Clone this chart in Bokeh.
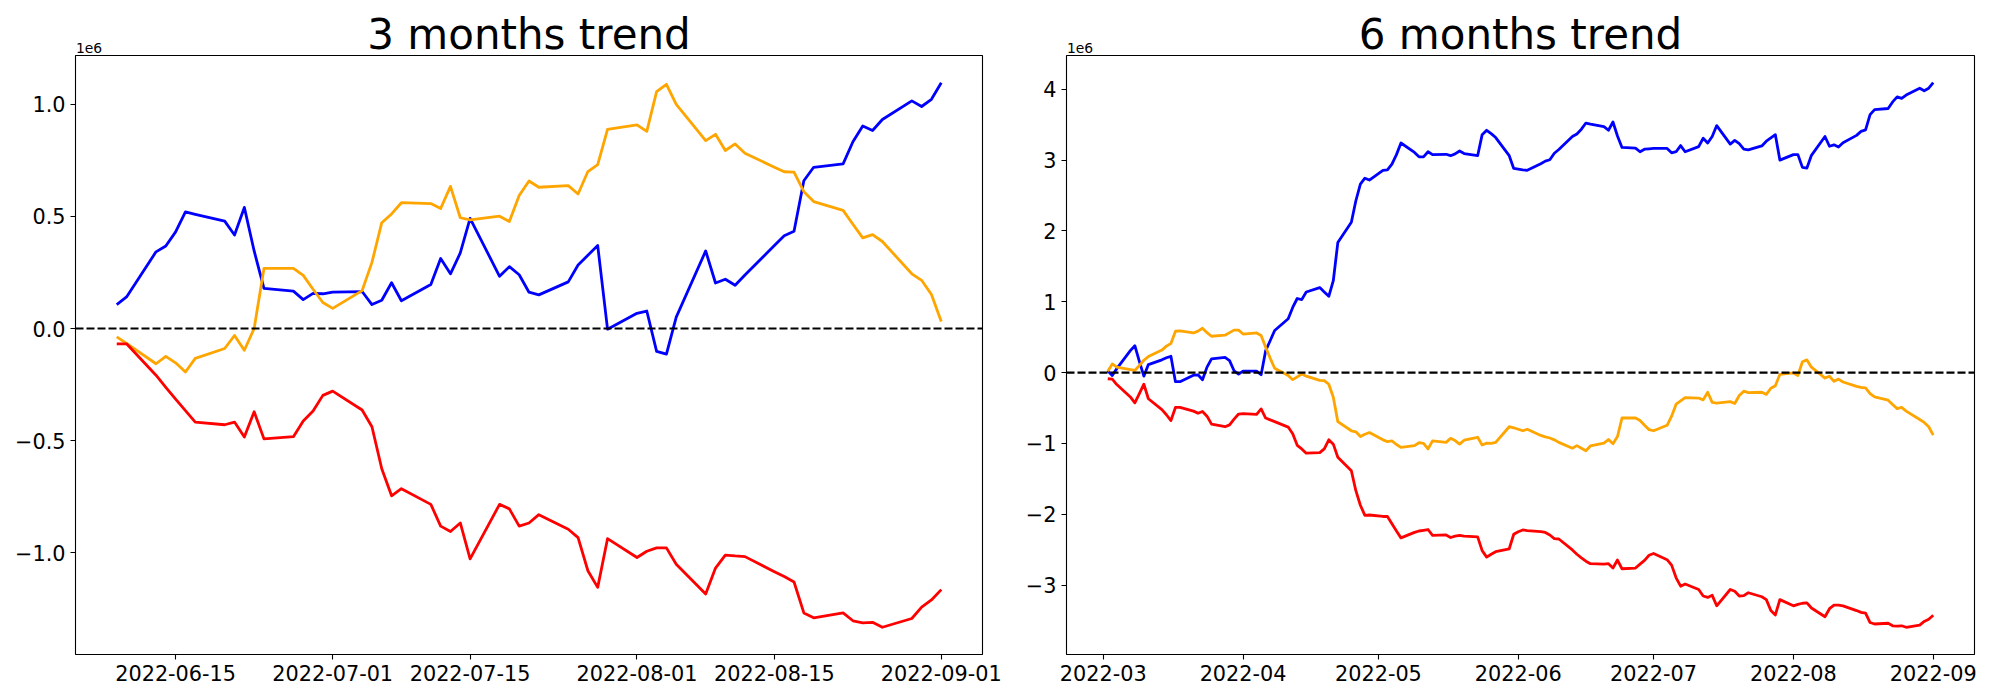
import pandas as pd
from bokeh.plotting import figure
from bokeh.models import (Range1d, FixedTicker, CustomJSTickFormatter, Span, LinearAxis)
from bokeh.layouts import row
from bokeh.embed import file_html
from bokeh.resources import INLINE

# ---------------- data (values in units of 1e6) ----------------
dates_3m = pd.bdate_range("2022-06-09", "2022-09-01")
blue_3m = [0.107, 0.141, 0.342, 0.368, 0.431, 0.520, 0.509, 0.479, 0.417, 0.540, 0.346, 0.179,
           0.167, 0.129, 0.157, 0.155, 0.162, 0.165, 0.107, 0.126, 0.204, 0.124, 0.196, 0.312,
           0.244, 0.337, 0.491, 0.233, 0.276, 0.240, 0.162, 0.150, 0.208, 0.283, 0.327, 0.370,
           -0.003, 0.068, 0.078, -0.102, -0.114, 0.051, 0.346, 0.203, 0.220, 0.193, 0.239, 0.370,
           0.414, 0.434, 0.659, 0.719, 0.734, 0.833, 0.903, 0.883, 0.932, 1.015, 0.990, 1.022, 1.096]
orange_3m = [-0.037, -0.066, -0.157, -0.124, -0.153, -0.194, -0.133, -0.089, -0.031, -0.097, 0.000, 0.268,
             0.268, 0.237, 0.175, 0.116, 0.090, 0.169, 0.295, 0.472, 0.511, 0.561, 0.557, 0.535,
             0.634, 0.494, 0.484, 0.501, 0.477, 0.593, 0.658, 0.630, 0.637, 0.600, 0.700, 0.731,
             0.888, 0.908, 0.879, 1.056, 1.089, 1.000, 0.838, 0.866, 0.794, 0.823, 0.782, 0.719,
             0.699, 0.697, 0.610, 0.566, 0.527, 0.465, 0.404, 0.419, 0.388, 0.244, 0.215, 0.152, 0.031]
red_3m = [-0.068, -0.068, -0.208, -0.262, -0.315, -0.366, -0.417, -0.429, -0.417, -0.484, -0.371, -0.492,
          -0.482, -0.412, -0.368, -0.298, -0.279, -0.363, -0.438, -0.625, -0.746, -0.714, -0.784, -0.881,
          -0.905, -0.867, -1.027, -0.784, -0.804, -0.881, -0.867, -0.830, -0.895, -0.932, -1.080, -1.154,
          -0.937, -1.021, -0.993, -0.978, -0.978, -1.051, -1.184, -1.068, -1.010, -1.014, -1.017, -1.084,
          -1.106, -1.130, -1.268, -1.290, -1.268, -1.303, -1.312, -1.310, -1.332, -1.293, -1.242, -1.210, -1.164]

dates_6m = pd.bdate_range("2022-03-02", "2022-09-01")
blue_6m = [0.026, -0.041, 0.056, 0.31, 0.38, 0.16, -0.05, 0.113, 0.18, 0.21, 0.23, -0.128, -0.128,
           -0.036, -0.031, -0.10, 0.077, 0.195, 0.215, 0.17, 0.026, -0.02,
           0.02, 0.02, -0.03, 0.31, 0.45, 0.595, 0.76, 0.92, 1.046, 1.03, 1.138, 1.20, 1.138, 1.077,
           1.297, 1.836, 2.123, 2.426, 2.66, 2.744, 2.718,
           2.856, 2.862, 2.944, 3.077, 3.241, 3.108, 3.046, 3.046, 3.118, 3.077, 3.082, 3.062, 3.087,
           3.128, 3.092, 3.062, 3.359, 3.421, 3.374, 3.318, 3.062, 2.882,
           2.872, 2.862, 2.856, 2.949, 2.985, 3.005, 3.097, 3.149, 3.333, 3.369, 3.436, 3.523, 3.508,
           3.472, 3.421, 3.538, 3.34, 3.179, 3.169, 3.118, 3.154, 3.159,
           3.164, 3.164, 3.103, 3.118, 3.205, 3.118, 3.19, 3.308, 3.241, 3.333, 3.487, 3.226, 3.277,
           3.231, 3.154, 3.144, 3.2, 3.267, 3.313, 3.359, 3.0,
           3.077, 3.077, 2.897, 2.887, 3.067, 3.333, 3.195, 3.215, 3.185, 3.246, 3.349, 3.405, 3.426,
           3.641, 3.713, 3.728, 3.821, 3.892, 3.872, 3.918, 4.015, 3.979, 4.015, 4.092]
orange_6m = [0.02, 0.123, 0.077, 0.041, 0.03, 0.10, 0.174, 0.226, 0.318, 0.374, 0.41, 0.585, 0.59,
             0.56, 0.585, 0.626, 0.564, 0.513, 0.528, 0.564, 0.60, 0.60,
             0.544, 0.56, 0.523, 0.359, 0.205, 0.062, -0.04, -0.10, -0.06, -0.02, -0.05, -0.11, -0.113,
             -0.164, -0.349, -0.692, -0.821, -0.836, -0.903, -0.87, -0.846,
             -0.949, -0.974, -0.964, -1.015, -1.056, -1.03, -0.99, -1.0, -1.077, -0.964, -0.985, -0.928,
             -0.959, -1.01, -0.954, -0.913, -1.021, -0.995, -1.0, -0.985, -0.764, -0.779,
             -0.80, -0.821, -0.80, -0.887, -0.908, -0.923, -0.949, -0.985, -1.067, -1.031, -1.067, -1.103,
             -1.036, -0.995, -0.944, -1.005, -0.903, -0.641, -0.641, -0.677, -0.744, -0.805,
             -0.821, -0.744, -0.615, -0.446, -0.40, -0.354, -0.359, -0.385, -0.277, -0.421, -0.431, -0.41,
             -0.436, -0.323, -0.262, -0.282, -0.277, -0.308, -0.221, -0.185, -0.026,
             -0.005, -0.041, 0.154, 0.179, 0.077, -0.077, -0.051, -0.123, -0.092, -0.133, -0.195, -0.21,
             -0.215, -0.297, -0.344, -0.39, -0.451, -0.508, -0.492, -0.544, -0.662, -0.703, -0.764, -0.882]
red_6m = [-0.087, -0.092, -0.169, -0.344, -0.426, -0.297, -0.164, -0.369, -0.523, -0.595, -0.677, -0.492,
          -0.492, -0.544, -0.574, -0.549, -0.615, -0.728, -0.764, -0.738, -0.656, -0.585,
          -0.579, -0.59, -0.513, -0.641, -0.667, -0.692, -0.769, -0.862, -1.026, -1.077, -1.138, -1.13,
          -1.077, -0.949, -1.01, -1.195, -1.385, -1.667, -1.872, -2.015, -2.01,
          -2.031, -2.031, -2.133, -2.236, -2.333, -2.256, -2.236, -2.226, -2.215, -2.297, -2.292, -2.328,
          -2.308, -2.297, -2.308, -2.318, -2.513, -2.605, -2.564, -2.528, -2.487, -2.282,
          -2.246, -2.221, -2.231, -2.246, -2.256, -2.292, -2.344, -2.349, -2.503, -2.564, -2.615, -2.662,
          -2.697, -2.703, -2.697, -2.759, -2.646, -2.769, -2.759, -2.703, -2.651, -2.579,
          -2.554, -2.641, -2.718, -2.897, -3.015, -2.985, -3.062, -3.154, -3.174, -3.144, -3.292, -3.062,
          -3.087, -3.154, -3.149, -3.108, -3.164, -3.205, -3.359, -3.421, -3.205,
          -3.292, -3.272, -3.256, -3.251, -3.323, -3.446, -3.333, -3.282, -3.282, -3.292, -3.359, -3.385,
          -3.395, -3.528, -3.549, -3.538, -3.574, -3.579, -3.574, -3.595, -3.564, -3.513, -3.482, -3.426]

xticks_3m = ["2022-06-15", "2022-07-01", "2022-07-15", "2022-08-01", "2022-08-15", "2022-09-01"]
xticks_6m = ["2022-03-01", "2022-04-01", "2022-05-01", "2022-06-01", "2022-07-01", "2022-08-01", "2022-09-01"]
yticks_3m = [-1.0, -0.5, 0.0, 0.5, 1.0]
yticks_6m = [-3, -2, -1, 0, 1, 2, 3, 4]
titles = ["3 months trend", "6 months trend"]
offset_text = "1e6"
colors = ["blue", "orange", "red"]

FONT = "DejaVu Sans"


def to_ms(idx):
    return [int(pd.Timestamp(d).value // 10**6) for d in idx]


def make_panel(title, dates, series, xticks, yticks, xlen, ydec,
               border_left, border_right, frame_w):
    xs = to_ms(dates)
    xmin, xmax = min(xs), max(xs)
    xpad = 0.05 * (xmax - xmin)
    allv = [v for s in series for v in s]
    ymin, ymax = min(allv), max(allv)
    ypad = 0.05 * (ymax - ymin)
    x0, x1 = xmin - xpad, xmax + xpad
    y0, y1 = ymin - ypad, ymax + ypad

    p = figure(x_axis_type="datetime", output_backend="svg", toolbar_location=None,
               frame_width=frame_w, frame_height=599,
               min_border_left=border_left, min_border_right=border_right,
               min_border_top=55, min_border_bottom=46,
               x_range=Range1d(x0, x1), y_range=Range1d(y0, y1))
    p.title.visible = False
    p.background_fill_color = "white"
    p.border_fill_color = "white"
    p.outline_line_color = "black"
    p.outline_line_width = 1.1
    p.outline_line_alpha = 1.0
    p.xgrid.grid_line_color = None
    p.ygrid.grid_line_color = None

    for s, c in zip(series, colors):
        p.line(dates, s, line_color=c, line_width=2.8, line_join="round")

    p.add_layout(Span(location=0, dimension="width", line_color="black",
                      line_dash="8 3", line_width=2.1))

    p.xaxis.ticker = FixedTicker(ticks=to_ms(pd.to_datetime(xticks)))
    p.xaxis.formatter = CustomJSTickFormatter(
        code="return new Date(tick).toISOString().slice(0, %d);" % xlen)
    p.yaxis.ticker = FixedTicker(ticks=yticks)
    p.yaxis.formatter = CustomJSTickFormatter(
        code="const s = Math.abs(tick).toFixed(%d); return (tick < -1e-9 ? '\u2212' : '') + s;" % ydec)

    for ax in (p.xaxis[0], p.yaxis[0]):
        ax.axis_line_color = None
        ax.major_tick_line_color = "black"
        ax.major_tick_line_width = 1.1
        ax.major_tick_out = 5
        ax.major_tick_in = 0
        ax.minor_tick_out = 0
        ax.minor_tick_in = 0
        ax.major_label_text_font = FONT
        ax.major_label_text_font_size = "20.8px"
        ax.major_label_text_color = "black"
        ax.major_label_standoff = 5

    # top axis: carries the offset text "1e6" (as its only tick label) and the title
    top = LinearAxis(ticker=FixedTicker(ticks=[x0 + 13.5 * (x1 - x0) / frame_w]),
                     formatter=CustomJSTickFormatter(code="return '%s';" % offset_text))
    top.axis_line_color = None
    top.major_tick_line_color = None
    top.major_tick_out = 0
    top.major_tick_in = 0
    top.minor_tick_out = 0
    top.minor_tick_in = 0
    top.major_label_standoff = 3
    top.major_label_text_font = FONT
    top.major_label_text_font_size = "13.9px"
    top.major_label_text_color = "black"
    top.axis_label = title
    top.axis_label_standoff = -19
    top.axis_label_text_font = FONT
    top.axis_label_text_font_size = "42px"
    top.axis_label_text_font_style = "normal"
    top.axis_label_text_color = "black"
    p.add_layout(top, "above")
    return p


p1 = make_panel(titles[0], dates_3m, [blue_3m, orange_3m, red_3m], xticks_3m, yticks_3m,
                10, 1, 75, 26, 907)
p2 = make_panel(titles[1], dates_6m, [blue_6m, orange_6m, red_6m], xticks_6m, yticks_6m,
                7, 0, 58, 26, 908)

layout = row(p1, p2)
open("out.html", "w").write(file_html(layout, INLINE))
